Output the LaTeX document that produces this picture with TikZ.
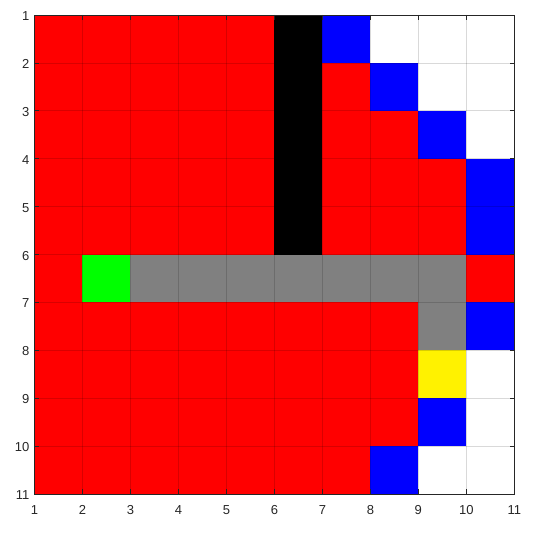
\documentclass[tikz,border=0pt]{standalone}
\usepackage{fontspec}
\setmainfont{Liberation Sans}
\definecolor{axgray}{RGB}{38,38,38}
\begin{document}
\begin{tikzpicture}[x=1pt,y=1pt,
  ticklab/.style={inner sep=0pt, text=axgray, font=\fontsize{13}{15}\selectfont},
  gridline/.style={black, opacity=0.15, line width=0.6pt},
  tickline/.style={axgray, line width=0.6pt}]
\useasboundingbox (0,0) rectangle (537,-537);
\begin{scope}[shift={(34.5,-15)}, x=47.98pt, y=-47.9pt]
  \foreach \row [count=\r] in {
    {red,red,red,red,red,black,blue,white,white,white},
    {red,red,red,red,red,black,red,blue,white,white},
    {red,red,red,red,red,black,red,red,blue,white},
    {red,red,red,red,red,black,red,red,red,blue},
    {red,red,red,red,red,black,red,red,red,blue},
    {red,green,gray,gray,gray,gray,gray,gray,gray,red},
    {red,red,red,red,red,red,red,red,gray,blue},
    {red,red,red,red,red,red,red,red,yellow,white},
    {red,red,red,red,red,red,red,red,blue,white},
    {red,red,red,red,red,red,red,blue,white,white}}
  {
    \foreach \c [count=\k] in \row {
      \fill[\c] (\k-1,\r-1) rectangle (\k,\r);
    }
  }
  \foreach \i in {1,...,9} {
    \draw[gridline] (\i,0) -- (\i,10);
    \draw[gridline] (0,\i) -- (10,\i);
  }
  \foreach \i in {1,...,9} {
    \draw[tickline] (\i,10) -- ++(0,-0.1);
    \draw[tickline] (\i,0) -- ++(0,0.1);
    \draw[tickline] (0,\i) -- ++(0.1,0);
    \draw[tickline] (10,\i) -- ++(-0.1,0);
  }
  \draw[axgray, line width=0.7pt] (0,0) rectangle (10,10);
\end{scope}
\foreach \i in {1,...,11} {
  \node[ticklab, anchor=base east] (yl\i) at (29.5, {-15-(\i-1)*47.9-5.5}) {\i};
  \node[ticklab, anchor=base] (xl\i) at ({34.5+(\i-1)*47.98}, -514) {\i};
}
\end{tikzpicture}
\end{document}
